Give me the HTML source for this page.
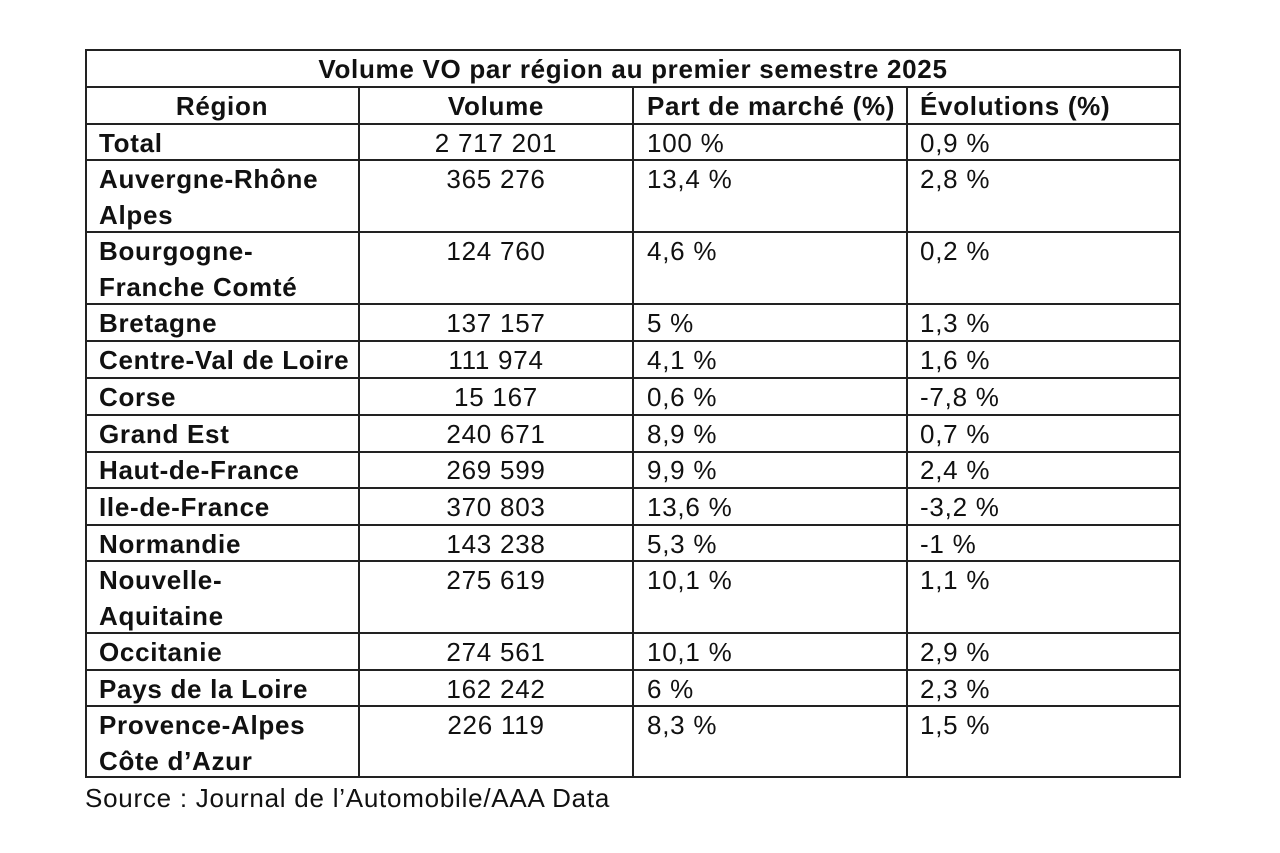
<!DOCTYPE html>
<html><head><meta charset="utf-8"><style>
body{margin:0;width:1280px;height:853px;background:#fff;position:relative;overflow:hidden;font-family:"Liberation Sans",sans-serif;color:#111}
.h{position:absolute;background:#222;height:1.5px}
.v{position:absolute;background:#222;width:1.5px}
.t{position:absolute;font-size:26px;line-height:36px;white-space:nowrap;letter-spacing:0.75px;margin-top:1px}
.b{font-weight:bold;letter-spacing:0.7px}
.c{text-align:center}
</style></head><body>
<div class="h" style="left:85px;width:1096px;top:49px"></div>
<div class="h" style="left:85px;width:1096px;top:86px"></div>
<div class="h" style="left:85px;width:1096px;top:123px"></div>
<div class="h" style="left:85px;width:1096px;top:159px"></div>
<div class="h" style="left:85px;width:1096px;top:231px"></div>
<div class="h" style="left:85px;width:1096px;top:303px"></div>
<div class="h" style="left:85px;width:1096px;top:340px"></div>
<div class="h" style="left:85px;width:1096px;top:377px"></div>
<div class="h" style="left:85px;width:1096px;top:414px"></div>
<div class="h" style="left:85px;width:1096px;top:451px"></div>
<div class="h" style="left:85px;width:1096px;top:487px"></div>
<div class="h" style="left:85px;width:1096px;top:524px"></div>
<div class="h" style="left:85px;width:1096px;top:560px"></div>
<div class="h" style="left:85px;width:1096px;top:632px"></div>
<div class="h" style="left:85px;width:1096px;top:669px"></div>
<div class="h" style="left:85px;width:1096px;top:705px"></div>
<div class="h" style="left:85px;width:1096px;top:776px"></div>
<div class="v" style="left:85px;top:49px;height:728px"></div>
<div class="v" style="left:1179px;top:49px;height:728px"></div>
<div class="v" style="left:358px;top:86px;height:691px"></div>
<div class="v" style="left:632px;top:86px;height:691px"></div>
<div class="v" style="left:906px;top:86px;height:691px"></div>

<div class="t b c" style="left:85px;width:1096px;top:50px">Volume VO par région au premier semestre 2025</div>
<div class="t b c" style="left:85px;width:274px;top:87px">Région</div>
<div class="t b c" style="left:359px;width:274px;top:87px">Volume</div>
<div class="t b" style="left:647px;top:87px">Part de marché (%)</div>
<div class="t b" style="left:920px;top:87px">Évolutions (%)</div>

<div class="t b" style="left:99px;top:124px">Total</div>
<div class="t b" style="left:99px;top:160px">Auvergne-Rhône<br>Alpes</div>
<div class="t b" style="left:99px;top:232px">Bourgogne-<br>Franche Comté</div>
<div class="t b" style="left:99px;top:304px">Bretagne</div>
<div class="t b" style="left:99px;top:341px">Centre-Val de Loire</div>
<div class="t b" style="left:99px;top:378px">Corse</div>
<div class="t b" style="left:99px;top:415px">Grand Est</div>
<div class="t b" style="left:99px;top:451px">Haut-de-France</div>
<div class="t b" style="left:99px;top:488px">Ile-de-France</div>
<div class="t b" style="left:99px;top:525px">Normandie</div>
<div class="t b" style="left:99px;top:561px">Nouvelle-<br>Aquitaine</div>
<div class="t b" style="left:99px;top:633px">Occitanie</div>
<div class="t b" style="left:99px;top:670px">Pays de la Loire</div>
<div class="t b" style="left:99px;top:706px">Provence-Alpes<br>Côte d’Azur</div>

<div class="t c" style="left:359px;width:274px;top:124px">2 717 201</div>
<div class="t c" style="left:359px;width:274px;top:160px">365 276</div>
<div class="t c" style="left:359px;width:274px;top:232px">124 760</div>
<div class="t c" style="left:359px;width:274px;top:304px">137 157</div>
<div class="t c" style="left:359px;width:274px;top:341px">111 974</div>
<div class="t c" style="left:359px;width:274px;top:378px">15 167</div>
<div class="t c" style="left:359px;width:274px;top:415px">240 671</div>
<div class="t c" style="left:359px;width:274px;top:451px">269 599</div>
<div class="t c" style="left:359px;width:274px;top:488px">370 803</div>
<div class="t c" style="left:359px;width:274px;top:525px">143 238</div>
<div class="t c" style="left:359px;width:274px;top:561px">275 619</div>
<div class="t c" style="left:359px;width:274px;top:633px">274 561</div>
<div class="t c" style="left:359px;width:274px;top:670px">162 242</div>
<div class="t c" style="left:359px;width:274px;top:706px">226 119</div>

<div class="t" style="left:647px;top:124px">100 %</div>
<div class="t" style="left:647px;top:160px">13,4 %</div>
<div class="t" style="left:647px;top:232px">4,6 %</div>
<div class="t" style="left:647px;top:304px">5 %</div>
<div class="t" style="left:647px;top:341px">4,1 %</div>
<div class="t" style="left:647px;top:378px">0,6 %</div>
<div class="t" style="left:647px;top:415px">8,9 %</div>
<div class="t" style="left:647px;top:451px">9,9 %</div>
<div class="t" style="left:647px;top:488px">13,6 %</div>
<div class="t" style="left:647px;top:525px">5,3 %</div>
<div class="t" style="left:647px;top:561px">10,1 %</div>
<div class="t" style="left:647px;top:633px">10,1 %</div>
<div class="t" style="left:647px;top:670px">6 %</div>
<div class="t" style="left:647px;top:706px">8,3 %</div>

<div class="t" style="left:920px;top:124px">0,9 %</div>
<div class="t" style="left:920px;top:160px">2,8 %</div>
<div class="t" style="left:920px;top:232px">0,2 %</div>
<div class="t" style="left:920px;top:304px">1,3 %</div>
<div class="t" style="left:920px;top:341px">1,6 %</div>
<div class="t" style="left:920px;top:378px">-7,8 %</div>
<div class="t" style="left:920px;top:415px">0,7 %</div>
<div class="t" style="left:920px;top:451px">2,4 %</div>
<div class="t" style="left:920px;top:488px">-3,2 %</div>
<div class="t" style="left:920px;top:525px">-1 %</div>
<div class="t" style="left:920px;top:561px">1,1 %</div>
<div class="t" style="left:920px;top:633px">2,9 %</div>
<div class="t" style="left:920px;top:670px">2,3 %</div>
<div class="t" style="left:920px;top:706px">1,5 %</div>

<div class="t" style="left:85px;top:779px">Source : Journal de l’Automobile/AAA Data</div>
</body></html>
